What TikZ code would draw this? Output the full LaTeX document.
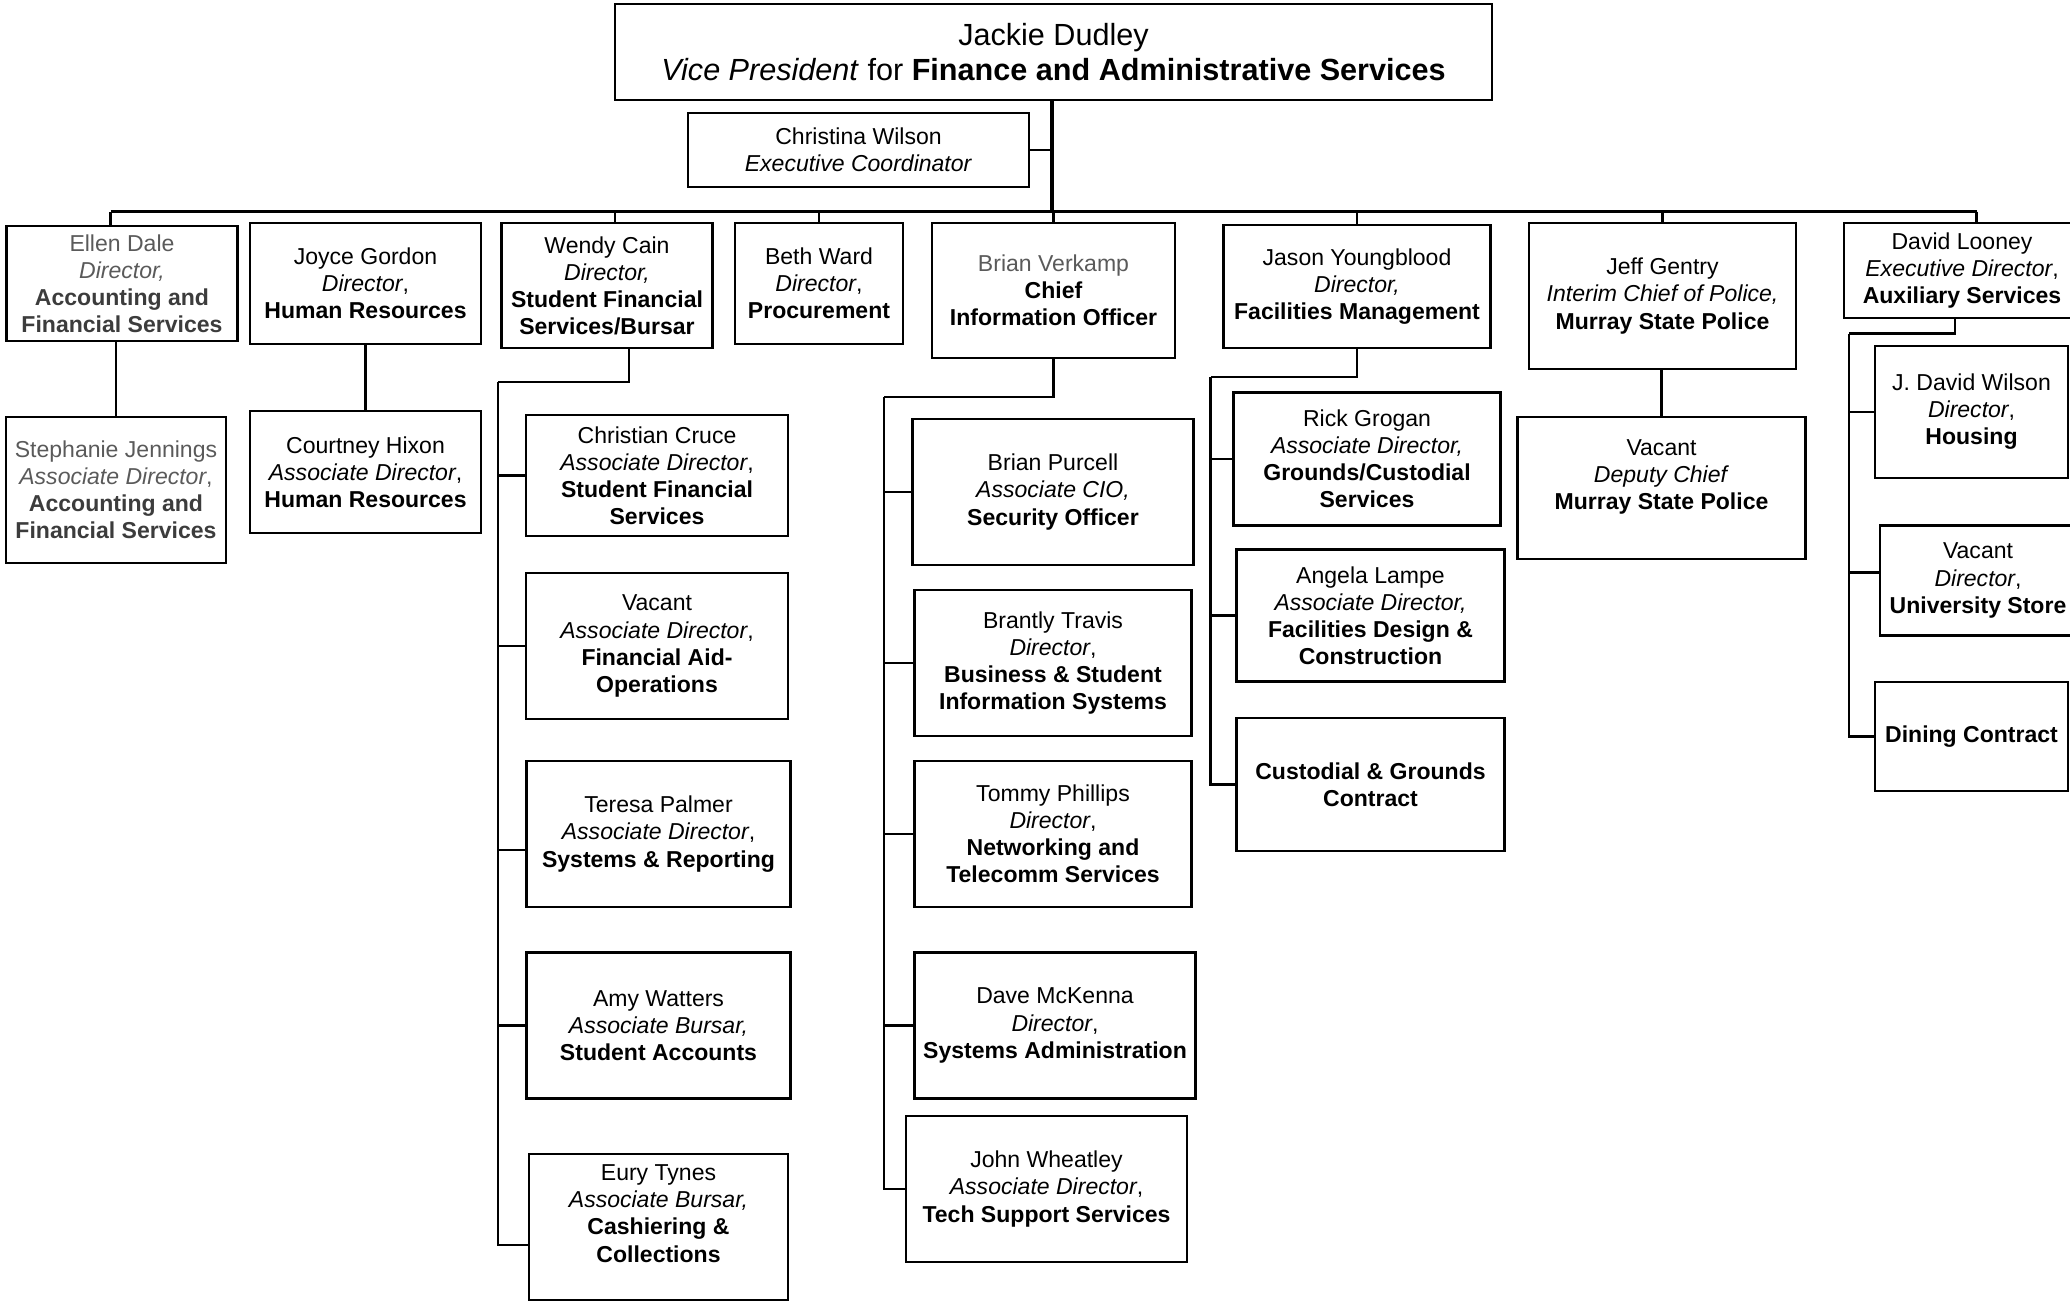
\documentclass[tikz,border=0pt]{standalone}
\usepackage{fontspec}
\setmainfont{Liberation Sans}
\usepackage{xcolor}
\usepackage{tikz}
\usetikzlibrary{positioning,calc}
\definecolor{namegray}{HTML}{5A5A5A}
\definecolor{deptgray}{HTML}{3C3C3C}

\begin{document}
\begin{tikzpicture}[x=0.01cm,y=-0.01cm,
    box/.style={draw, line width=0.65pt, align=center, inner sep=1pt, font=\fontsize{6.55}{7.7}\selectfont},
    boxsize/.style 2 args={minimum width=#1*0.01cm, minimum height=#2*0.01cm},
    link/.style={line width=0.65pt},
    trunk/.style={line width=0.95pt}]
    \clip (0,0) rectangle (2070,1302);

    \node[box, boxsize={877}{96}, font=\fontsize{8.7}{10.1}\selectfont] (vp) at (1053.5,52) {Jackie Dudley\\\textit{Vice President} for \textbf{Finance and Administrative Services}};
    \node[box, boxsize={341}{74}] (cw) at (858.5,150) {Christina Wilson\\\textit{Executive Coordinator}};

    \node[box, boxsize={231}{115}] (ed) at (122,283.5) {\color{namegray}Ellen Dale\\\color{namegray}\textit{Director,}\\\color{deptgray}\textbf{Accounting and}\\\color{deptgray}\textbf{Financial Services}};
    \node[box, boxsize={231}{121}] (jg) at (365.5,283.5) {Joyce Gordon\\\textit{Director},\\\textbf{Human Resources}};
    \node[box, boxsize={211}{125}] (wc) at (607,285.5) {Wendy Cain\\\textit{Director,}\\\textbf{Student Financial}\\\textbf{Services/Bursar}};
    \node[box, boxsize={168}{121}] (bw) at (819,283.5) {Beth Ward\\\textit{Director},\\\textbf{Procurement}};
    \node[box, boxsize={243}{135}] (bv) at (1053.5,290.5) {\color{namegray}Brian Verkamp\\\textbf{Chief}\\\textbf{Information Officer}};
    \node[box, boxsize={267}{123}] (jy) at (1357,286.5) {Jason Youngblood\\\textit{Director,}\\\textbf{Facilities Management}};
    \node[box, boxsize={267}{146}] (jgn) at (1662.5,296) {Jeff Gentry\\\textit{Interim Chief of Police,}\\\textbf{Murray State Police}};
    \node[box, boxsize={236}{95}] (dl) at (1962,270.5) {David Looney\\\textit{Executive Director},\\\textbf{Auxiliary Services}};

    \node[box, boxsize={220}{146}] (sj) at (116,490) {\color{namegray}Stephanie Jennings\\\color{namegray}\textit{Associate Director},\\\color{deptgray}\textbf{Accounting and}\\\color{deptgray}\textbf{Financial Services}};
    \node[box, boxsize={231}{122}] (ch) at (365.5,472) {Courtney Hixon\\\textit{Associate Director},\\\textbf{Human Resources}};

    \node[box, boxsize={262}{121}] (cc) at (657,475.5) {Christian Cruce\\\textit{Associate Director},\\\textbf{Student Financial}\\\textbf{Services}};
    \node[box, boxsize={262}{146}] (vf) at (657,646) {Vacant\\\textit{Associate Director},\\\textbf{Financial Aid-}\\\textbf{Operations}};
    \node[box, boxsize={264}{146}] (tp) at (658.5,834) {Teresa Palmer\\\textit{Associate Director},\\\textbf{Systems \& Reporting}};
    \node[box, boxsize={264}{146}] (aw) at (658.5,1025.5) {Amy Watters\\\textit{Associate Bursar,}\\\textbf{Student Accounts}};
    \node[box, boxsize={259}{146}] (et) at (658.5,1227) {Eury Tynes\\\textit{Associate Bursar,}\\\textbf{Cashiering \&}\\\textbf{Collections}\\~};

    \node[box, boxsize={281}{146}] (bp) at (1053,492) {Brian Purcell\\\textit{Associate CIO,}\\\textbf{Security Officer}};
    \node[box, boxsize={277}{146}] (bt) at (1053,663) {Brantly Travis\\\textit{Director},\\\textbf{Business \& Student}\\\textbf{Information Systems}};
    \node[box, boxsize={277}{146}] (tph) at (1053,834) {Tommy Phillips\\\textit{Director},\\\textbf{Networking and}\\\textbf{Telecomm Services}};
    \node[box, boxsize={281}{146}] (dm) at (1055,1025.5) {Dave McKenna\\\textit{Director},\\\textbf{Systems Administration}};
    \node[box, boxsize={281}{146}] (jw) at (1046.5,1189) {John Wheatley\\\textit{Associate Director},\\\textbf{Tech Support Services}};

    \node[box, boxsize={267}{133}] (rg) at (1367,459) {Rick Grogan\\\textit{Associate Director,}\\\textbf{Grounds/Custodial}\\\textbf{Services}};
    \node[box, boxsize={268}{132}] (al) at (1370.5,615.5) {Angela Lampe\\\textit{Associate Director,}\\\textbf{Facilities Design \&}\\\textbf{Construction}};
    \node[box, boxsize={268}{133}] (cg) at (1370.5,784.5) {\textbf{Custodial \& Grounds}\\\textbf{Contract}};

    \node[box, boxsize={288}{142}] (vd) at (1661.5,488) {Vacant\\\textit{Deputy Chief}\\\textbf{Murray State Police}\\~};

    \node[box, boxsize={193}{132}] (jdw) at (1971.5,412) {J. David Wilson\\\textit{Director},\\\textbf{Housing}};
    \node[box, boxsize={196}{110}] (vus) at (1978,580.5) {Vacant\\\textit{Director},\\\textbf{University Store}};
    \node[box, boxsize={193}{109}] (dc) at (1971.5,736.5) {\textbf{Dining Contract}};

    \coordinate (hub) at (1052,211.5);
    \coordinate (barL) at (110.5,211.5);
    \coordinate (barR) at (1976.5,211.5);
    \draw[trunk] (vp.south -| hub) -- (hub);
    \draw[link] (cw.east) -- (cw.east -| hub);
    \draw[line width=0.85pt] (barL) -- (barR);
    \draw[link] (barL) -- (barL |- ed.north);
    \draw[link] (barR) -- (barR |- dl.north);
    \draw[link] ($(wc.north)+(8,0)$) -- ($(wc.north |- hub)+(8,0)$);
    \foreach \n in {bw,bv,jy,jgn}
        \draw[link] (\n.north) -- (\n.north |- hub);

    \draw[link] (sj.north) -- (sj.north |- ed.south);
    \draw[link] (jg.south) -- (ch.north);
    \draw[link] (vd.north) -- (vd.north |- jgn.south);

    \coordinate (wcbus) at (498,382);
    \draw[link] ($(wc.south)+(22,0)$) |- (wcbus);
    \foreach \n/\dy in {cc/0,vf/0,tp/16,aw/0,et/18}
        \draw[link] (wcbus) |- ($(\n.west)+(0,\dy)$);

    \coordinate (bvbus) at (884,397);
    \draw[link] (bv.south) |- (bvbus);
    \foreach \n in {bp,bt,tph,dm,jw}
        \draw[link] (bvbus) |- (\n.west);

    \coordinate (jybus) at (1210.5,377);
    \draw[link] (jy.south) |- (jybus);
    \foreach \n in {rg,al,cg}
        \draw[link] (jybus) |- (\n.west);

    \coordinate (dlbus) at (1849,333.5);
    \draw[link] ($(dl.south)+(-7,0)$) |- (dlbus);
    \foreach \n/\dy in {jdw/0,vus/-8,dc/0}
        \draw[link] (dlbus) |- ($(\n.west)+(0,\dy)$);
\end{tikzpicture}
\end{document}
